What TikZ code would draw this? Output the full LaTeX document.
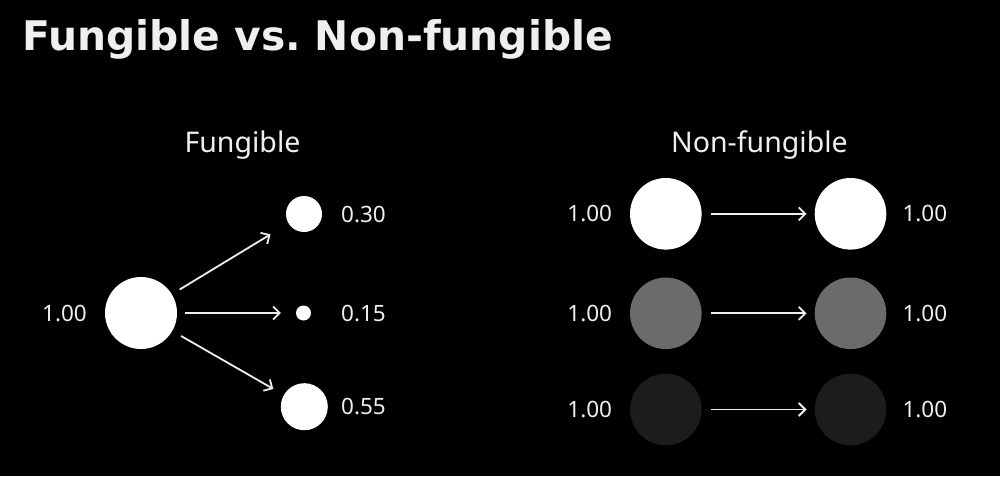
\documentclass[tikz,border=0pt]{standalone}
\usepackage{fontspec}
\setmainfont{Noto Sans}
\newfontfamily\titlefont{DejaVu Sans}
\usetikzlibrary{arrows.meta}
\definecolor{txt}{HTML}{EFEFEF}
\definecolor{midgray}{HTML}{6B6B6B}
\definecolor{darkgray}{HTML}{1C1C1C}
\begin{document}
\frenchspacing
\begin{tikzpicture}[x=1pt,y=-1pt,
  ball/.style={circle,draw=none,inner sep=0pt,minimum size=#1},
  lbl/.style={text=txt,inner sep=0pt,font=\fontsize{22.5}{26}\selectfont},
  hdr/.style={text=txt,inner sep=0pt,anchor=base,font=\fontsize{28.5}{32}\selectfont},
  arr/.style={draw=txt,line width=1.8pt,-{Straight Barb[length=6.5pt,width=13pt]}}]
\fill[black] (0,0) rectangle (1000,476);
\useasboundingbox (0,0) rectangle (1000,476);
% title
\node[text=txt,inner sep=0pt,anchor=base west,font=\titlefont\bfseries\fontsize{40.8}{46}\selectfont] (title) at (22,50.5) {Fungible vs. Non-fungible};
% headers
\node[hdr] (hf) at (242.5,152) {Fungible};
\node[hdr] (hn) at (759.5,152) {Non-fungible};
% fungible side
\node[ball=72pt,fill=white] (src) at (141,313) {};
\node[ball=36pt,fill=white] (t1) at (304,214) {};
\node[ball=15pt,fill=white] (t2) at (303.5,313) {};
\node[ball=47pt,fill=white] (t3) at (304.3,406.7) {};
\node[lbl,anchor=east] (lsrc) at (87,313) {1.00};
\node[lbl,anchor=west] (l1) at (341,214) {0.30};
\node[lbl,anchor=west] (l2) at (341,313) {0.15};
\node[lbl,anchor=west] (l3) at (341,406.7) {0.55};
\draw[arr,shorten <=9pt,shorten >=21pt] (src) -- (t1);
\draw[arr,shorten <=8pt,shorten >=15pt] (src) -- (t2);
\draw[arr,shorten <=10pt,shorten >=12pt] (src) -- (t3);
% non-fungible side
\foreach \i/\y/\c in {1/213.8/white,2/313.3/midgray,3/409.5/darkgray}{
  \node[ball=71.6pt,fill=\c] (a\i) at (665.8,\y) {};
  \node[ball=71.6pt,fill=\c] (b\i) at (850.5,\y) {};
  \node[lbl,anchor=east] (la\i) at (612.3,\y) {1.00};
  \node[lbl,anchor=west] (lb\i) at (902.3,\y) {1.00};
  \draw[arr,shorten <=9pt,shorten >=8pt] (a\i) -- (b\i);
}
\end{tikzpicture}
\end{document}
